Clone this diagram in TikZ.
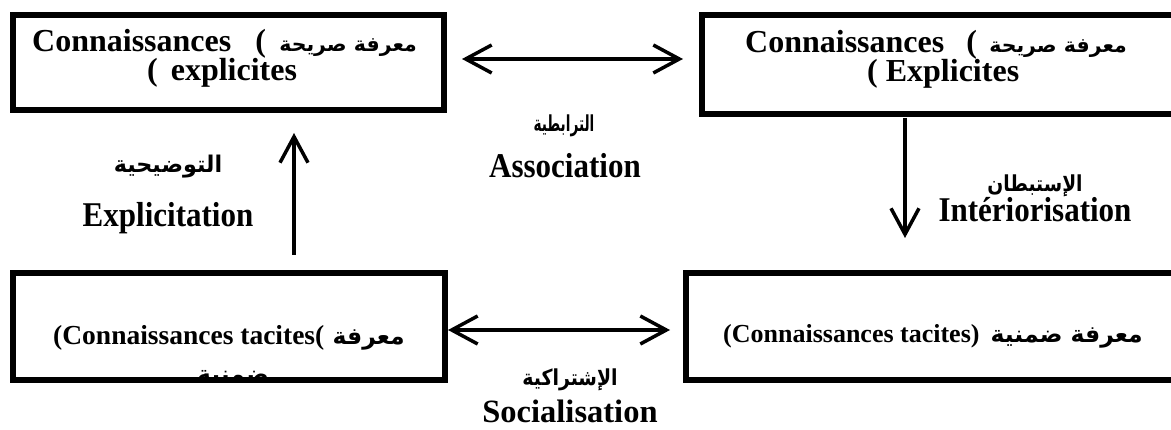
\documentclass[tikz,border=0pt]{standalone}
\usepackage{fontspec}
\usepackage{graphicx}
\setmainfont{Liberation Serif}
\newfontfamily\arabicfont[Script=Arabic]{DejaVu Sans}
\TeXXeTstate=1
\usetikzlibrary{arrows.meta}
% bold Arabic at a given size and horizontal scale
\newcommand\arfont[3]{\scalebox{#2}[1]{\fontsize{#1}{#1}\selectfont\arabicfont\bfseries #3}}
% slightly tall bold labels
\newcommand\tall[1]{\scalebox{1}[1.12]{#1}}

\tikzset{
  kbox/.style={draw, line width=6pt, inner sep=0pt, outer sep=0pt},
  boxtxt/.style={inner sep=0pt, anchor=base west, font=\fontsize{32}{38}\selectfont\bfseries},
  smalltxt/.style={inner sep=0pt, anchor=base west, font=\fontsize{27.5}{33}\selectfont\bfseries},
  boxar/.style={inner sep=0pt, anchor=base east},
  lbl/.style={inner sep=0pt, anchor=base, font=\fontsize{31}{36}\selectfont\bfseries},
  arlbl/.style={inner sep=0pt},
  flow/.style={line width=3.5pt, line cap=butt},
  tip/.tip={Straight Barb[length=26pt, width=28pt, line width=3.5pt]}
}

\begin{document}
\begin{tikzpicture}[x=1pt, y=-1pt]
\useasboundingbox (0,0) rectangle (1171,430);

% the four knowledge boxes
\node[kbox, minimum width=431pt, minimum height=95pt]    (box1) at (228.5,62.5) {};
\node[kbox, minimum width=478pt, minimum height=98.5pt]  (box2) at (941,64.75) {};
\node[kbox, minimum width=432pt, minimum height=107.5pt] (box3) at (229,326.75) {};
\node[kbox, minimum width=494.5pt, minimum height=107.5pt] (box4) at (932.75,326.75) {};

% explicit knowledge, left
\node[boxtxt] (b1a) at (32,52) {Connaissances\hspace{24pt}(};
\node[boxar]  (b1r) at (417,52) {\arfont{20.5}{1}{\beginR معرفة صريحة\endR}};
\node[boxtxt] (b1b) at (147,81) {(\hspace{13pt}explicites};
% explicit knowledge, right
\node[boxtxt] (b2a) at (745,53) {Connaissances\hspace{22pt}(};
\node[boxar]  (b2r) at (1127,53) {\arfont{20.5}{1}{\beginR معرفة صريحة\endR}};
\node[boxtxt] (b2b) at (867,82) {( Explicites};
% tacit knowledge, left (second line runs under the frame)
\node[smalltxt] (b3a) at (53,345) {(Connaissances tacites(};
\node[boxar]    (b3r) at (405,345) {\arfont{23.5}{1}{\beginR معرفة\endR}};
\begin{scope}
  \clip (box3.north west) rectangle (box3.south east);
  \node[inner sep=0pt, anchor=base] (b3b) at (233,383) {\arfont{23.5}{1}{\beginR ضمنية\endR}};
\end{scope}
% tacit knowledge, right
\node[smalltxt, font=\fontsize{26}{31}\selectfont\bfseries] (b4a) at (723,343) {(Connaissances tacites)};
\node[boxar] (b4r) at (1143,343) {\arfont{23.5}{1}{\beginR معرفة ضمنية\endR}};

% transitions
\draw[flow, {tip}-{tip}] ([xshift=18pt, yshift=3.5pt]box1.east) -- ([xshift=-19pt, yshift=5.75pt]box2.west);
\draw[flow, {tip}-{tip}] ([xshift=3pt, yshift=-3.25pt]box3.east) -- ([xshift=-15.5pt, yshift=-3.25pt]box4.west);
\draw[flow, -{tip}] ([xshift=65pt, yshift=18pt]box3.north) -- ([xshift=65.5pt, yshift=-23pt]box1.south);
\draw[flow, -{tip}] ([xshift=-36pt, yshift=-4pt]box2.south) -- ([xshift=-27.75pt, yshift=35pt]box4.north);

% transition labels
\node[arlbl] (l1ar) at (168,167) {\arfont{23}{0.97}{\beginR التوضيحية\endR}};
\node[lbl]   (l1)   at (168,227) {\tall{Explicitation}};
\node[arlbl] (l2ar) at (564,126) {\arfont{22}{0.62}{\beginR الترابطية\endR}};
\node[lbl]   (l2)   at (565,178) {\tall{Association}};
\node[arlbl] (l3ar) at (1035,186) {\arfont{22}{0.85}{\beginR الإستبطان\endR}};
\node[lbl]   (l3)   at (1035,222) {\tall{Intériorisation}};
\node[arlbl] (l4ar) at (570,380) {\arfont{22}{0.86}{\beginR الإشتراكية\endR}};
\node[lbl, font=\fontsize{32.5}{38}\selectfont\bfseries] (l4) at (570,423) {Socialisation};
\end{tikzpicture}
\end{document}
